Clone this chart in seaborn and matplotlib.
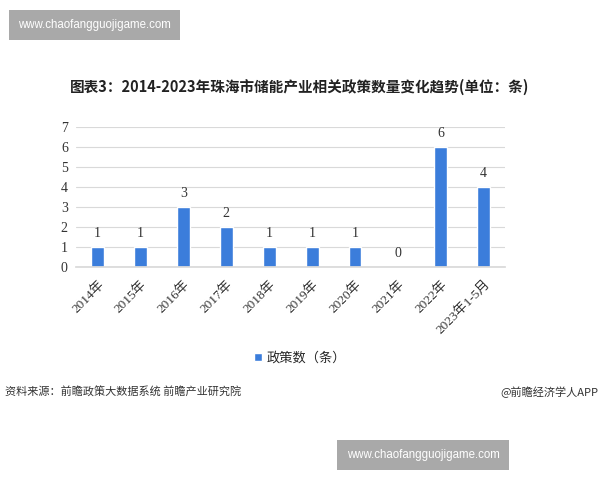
import matplotlib
matplotlib.use("Agg")
import matplotlib.pyplot as plt
import seaborn as sns
import pandas as pd

# 数据
categories = ["2014年", "2015年", "2016年", "2017年", "2018年",
              "2019年", "2020年", "2021年", "2022年", "2023年1-5月"]
policy_counts = [1, 1, 3, 2, 1, 1, 1, 0, 6, 4]
series_name = "政策数（条）"

title = "图表3：2014-2023年珠海市储能产业相关政策数量变化趋势(单位：条)"
source_text = "资料来源：前瞻政策大数据系统 前瞻产业研究院"
credit_text = "@前瞻经济学人APP"
site_text = "www.chaofangguojigame.com"

sns.set_theme(style="white")
plt.rcParams['font.family'] = ['Liberation Serif', 'Noto Sans CJK SC', 'DejaVu Sans']
sans = ['Noto Sans CJK SC', 'DejaVu Sans']

df = pd.DataFrame({"cat": categories, "val": policy_counts, "series": series_name})

fig = plt.figure(figsize=(6, 4.8), dpi=100)
ax = fig.add_axes([0.127, 0.444, 0.715, 0.292])

sns.barplot(data=df, x="cat", y="val", hue="series", palette=["#3b7ddb"],
            width=0.3, ax=ax, saturation=1)

ax.set_ylim(0, 7)
ax.set_yticks(range(0, 8))
ax.yaxis.grid(True, color="#d9d9d9", linewidth=0.8)
ax.set_axisbelow(True)
for s in ["top", "right", "left"]:
    ax.spines[s].set_visible(False)
ax.spines["bottom"].set_color("#d9d9d9")
ax.set_xlabel("")
ax.set_ylabel("")
ax.tick_params(axis="y", labelsize=10, colors="#333333", length=0, pad=6)
ax.tick_params(axis="x", labelsize=9.5, colors="#333333", length=0, pad=8)
plt.setp(ax.get_xticklabels(), rotation=45, ha="right", rotation_mode="anchor")

for c in ax.containers:
    ax.bar_label(c, padding=5, fontsize=10, color="#333333")

sns.move_legend(ax, "center", bbox_to_anchor=(0.5, 0.254),
                bbox_transform=fig.transFigure, frameon=False, title=None,
                handlelength=0.6, handleheight=0.6, handletextpad=0.3,
                prop={'family': sans, 'size': 9.5})

fig.text(0.5, 0.818, title, ha="center", va="center", fontsize=10.5,
         fontweight="bold", family=sans, color="#222222")
fig.text(0.008, 0.183, source_text, ha="left", va="center", fontsize=8,
         family=sans, color="#333333")
fig.text(0.997, 0.183, credit_text, ha="right", va="center", fontsize=8,
         family=sans, color="#333333")

# 网址水印框
box = dict(boxstyle="square,pad=0.8", fc="#a9a9a9", ec="none")
fig.text(0.158, 0.948, site_text, ha="center", va="center", fontsize=8.3,
         family="Liberation Sans", color="white", bbox=box)
fig.text(0.705, 0.052, site_text, ha="center", va="center", fontsize=8.3,
         family="Liberation Sans", color="white", bbox=box)

fig.savefig("out.png", dpi=100)
